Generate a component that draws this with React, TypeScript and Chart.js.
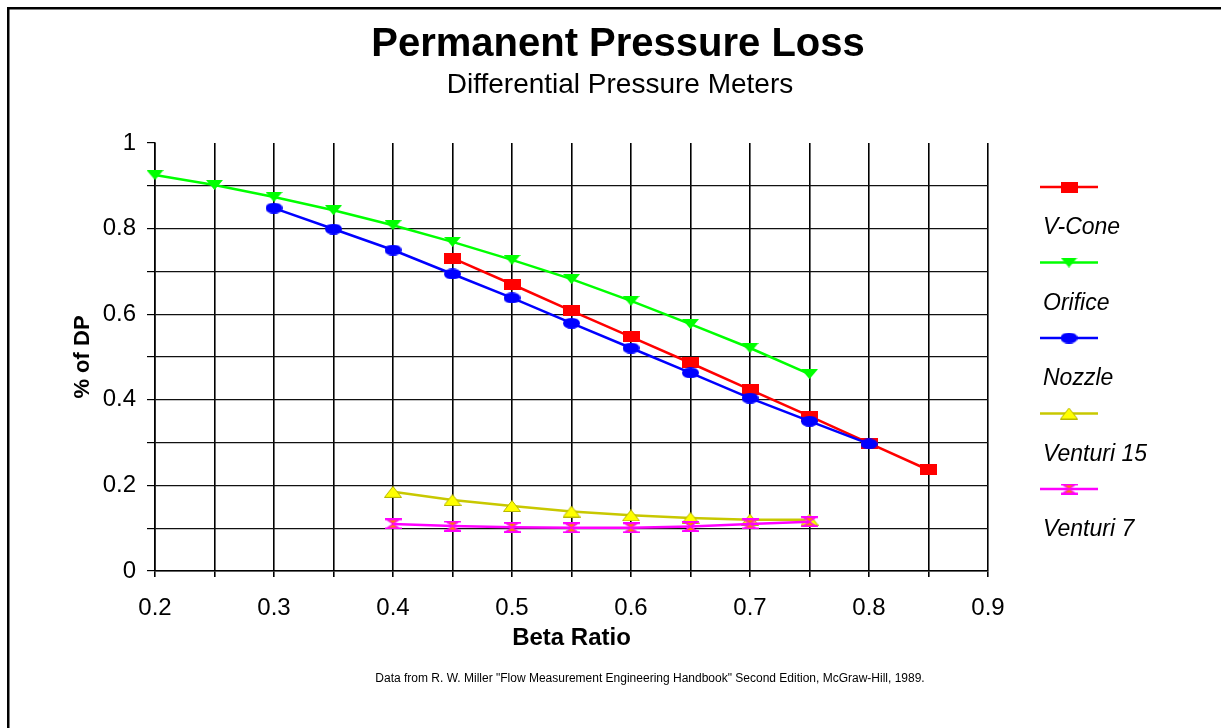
import React, { useEffect, useRef } from "react";
import { Chart, registerables } from "chart.js";

Chart.register(...registerables);

const FONT = "'Liberation Sans', Arial, sans-serif";

// ---- data ----
const vconeBeta = [0.45, 0.5, 0.55, 0.6, 0.65, 0.7, 0.75, 0.8, 0.85];
const vconeLoss = [0.731, 0.67, 0.608, 0.547, 0.486, 0.424, 0.362, 0.299, 0.236];

const orificeBeta = [0.2, 0.25, 0.3, 0.35, 0.4, 0.45, 0.5, 0.55, 0.6, 0.65, 0.7, 0.75];
const orificeLoss = [0.925, 0.902, 0.874, 0.843, 0.808, 0.769, 0.727, 0.682, 0.631, 0.577, 0.521, 0.46];

const nozzleBeta = [0.3, 0.35, 0.4, 0.45, 0.5, 0.55, 0.6, 0.65, 0.7, 0.75, 0.8];
const nozzleLoss = [0.848, 0.799, 0.75, 0.694, 0.638, 0.579, 0.521, 0.463, 0.404, 0.35, 0.297];

const venturi15Beta = [0.4, 0.45, 0.5, 0.55, 0.6, 0.65, 0.7, 0.75];
const venturi15Loss = [0.185, 0.166, 0.152, 0.139, 0.13, 0.124, 0.12, 0.12];

const venturi7Beta = [0.4, 0.45, 0.5, 0.55, 0.6, 0.65, 0.7, 0.75];
const venturi7Loss = [0.11, 0.105, 0.102, 0.101, 0.101, 0.104, 0.11, 0.115];

const seriesLabels = ["V-Cone", "Orifice", "Nozzle", "Venturi 15", "Venturi 7"];
const titleText = "Permanent Pressure Loss";
const subtitleText = "Differential Pressure Meters";
const captionText =
  'Data from R. W. Miller "Flow Measurement Engineering Handbook" Second Edition, McGraw-Hill, 1989.';
const xTitle = "Beta Ratio";
const yTitle = "% of DP";

function makeMarker(w: number, h: number, draw: (c: CanvasRenderingContext2D, w: number, h: number) => void) {
  const c = document.createElement("canvas");
  c.width = w;
  c.height = h;
  const ctx = c.getContext("2d")!;
  draw(ctx, w, h);
  return c;
}

function pts(xs: number[], ys: number[]) {
  return xs.map((x, i) => ({ x, y: ys[i] }));
}

export default function App() {
  const ref = useRef<HTMLCanvasElement | null>(null);

  useEffect(() => {
    if (!ref.current) return;

    const square = makeMarker(17, 11, (c, w, h) => {
      c.fillStyle = "#FF0000";
      c.fillRect(0, 0, w, h);
    });
    const downTri = makeMarker(17, 10, (c, w, h) => {
      c.fillStyle = "#00FF00";
      c.beginPath();
      c.moveTo(0, 0);
      c.lineTo(w, 0);
      c.lineTo(w / 2, h);
      c.closePath();
      c.fill();
    });
    const ellipse = makeMarker(17, 11, (c, w, h) => {
      c.fillStyle = "#0000FF";
      c.beginPath();
      c.ellipse(w / 2, h / 2, w / 2, h / 2, 0, 0, Math.PI * 2);
      c.fill();
    });
    const upTri = makeMarker(18, 12, (c, w, h) => {
      c.fillStyle = "#FFFF00";
      c.strokeStyle = "#B8B800";
      c.lineWidth = 1;
      c.beginPath();
      c.moveTo(0.5, h - 0.5);
      c.lineTo(w - 0.5, h - 0.5);
      c.lineTo(w / 2, 0.5);
      c.closePath();
      c.fill();
      c.stroke();
    });
    const hourglass = makeMarker(17, 11, (c, w, h) => {
      c.fillStyle = "#FF8000";
      c.strokeStyle = "#FF00FF";
      c.lineWidth = 1.2;
      c.beginPath();
      c.moveTo(2, 1);
      c.lineTo(w - 2, 1);
      c.lineTo(w / 2, h / 2);
      c.closePath();
      c.moveTo(2, h - 1);
      c.lineTo(w - 2, h - 1);
      c.lineTo(w / 2, h / 2);
      c.closePath();
      c.fill();
      c.stroke();
      c.fillStyle = "#FF00FF";
      c.fillRect(0, 0, w, 1.8);
      c.fillRect(0, h - 1.8, w, 1.8);
    });

    const legendItems = [
      { label: seriesLabels[0], color: "#FF0000", marker: square },
      { label: seriesLabels[1], color: "#00FF00", marker: downTri },
      { label: seriesLabels[2], color: "#0000FF", marker: ellipse },
      { label: seriesLabels[3], color: "#C8C800", marker: upTri },
      { label: seriesLabels[4], color: "#FF00FF", marker: hourglass },
    ];

    const decor = {
      id: "decor",
      beforeDraw(chart: any) {
        const c = chart.ctx as CanvasRenderingContext2D;
        c.save();
        c.fillStyle = "#fff";
        c.fillRect(0, 0, chart.width, chart.height);
        c.fillStyle = "#000";
        c.fillRect(7, 7, chart.width - 7, 2.5);
        c.fillRect(7, 7, 2.5, chart.height - 7);
        c.restore();
      },
      afterDraw(chart: any) {
        const c = chart.ctx as CanvasRenderingContext2D;
        c.save();
        c.fillStyle = "#000";
        c.textAlign = "center";
        c.textBaseline = "middle";
        c.font = `bold 40px ${FONT}`;
        c.fillText(titleText, 618, 45);
        c.font = `28px ${FONT}`;
        c.fillText(subtitleText, 620, 85);
        c.font = `12px ${FONT}`;
        c.fillText(captionText, 650, 679);

        legendItems.forEach((it, i) => {
          const y = 187 + i * 75.5;
          c.strokeStyle = it.color;
          c.lineWidth = 2.5;
          c.beginPath();
          c.moveTo(1040, y);
          c.lineTo(1098, y);
          c.stroke();
          const m = it.marker;
          c.drawImage(m, 1069 - m.width / 2, y - m.height / 2);
          c.fillStyle = "#000";
          c.textAlign = "left";
          c.font = `italic 23px ${FONT}`;
          c.fillText(it.label, 1043, y + 41);
        });
        c.restore();
      },
    };

    const mk = (label: string, data: any[], color: string, marker: HTMLCanvasElement) => ({
      label,
      data,
      borderColor: color,
      backgroundColor: color,
      borderWidth: 2.5,
      pointStyle: marker,
      pointRadius: 6,
      pointHoverRadius: 6,
      showLine: true,
      tension: 0,
      clip: false as any,
    });

    const chart = new Chart(ref.current, {
      type: "scatter",
      data: {
        datasets: [
          mk(seriesLabels[4], pts(venturi7Beta, venturi7Loss), "#FF00FF", hourglass),
          mk(seriesLabels[3], pts(venturi15Beta, venturi15Loss), "#C8C800", upTri),
          mk(seriesLabels[2], pts(nozzleBeta, nozzleLoss), "#0000FF", ellipse),
          mk(seriesLabels[1], pts(orificeBeta, orificeLoss), "#00FF00", downTri),
          mk(seriesLabels[0], pts(vconeBeta, vconeLoss), "#FF0000", square),
        ],
      },
      options: {
        responsive: false,
        animation: false,
        events: [],
        layout: { padding: { left: 55, right: 233, top: 143, bottom: 74 } },
        plugins: {
          legend: { display: false },
          tooltip: { enabled: false },
          title: { display: false },
        },
        scales: {
          x: {
            type: "linear",
            min: 0.2,
            max: 0.9,
            afterFit: (s: any) => {
              s.height = 83;
            },
            ticks: {
              stepSize: 0.05,
              autoSkip: false,
              maxRotation: 0,
              color: "#000",
              padding: 17,
              font: { family: FONT, size: 24 },
              callback: (v: any) => {
                const n = Math.round(Number(v) * 100);
                return n % 10 === 0 ? String(n / 100) : "";
              },
            },
            grid: { color: "#000", lineWidth: 1.6, tickLength: 6, tickColor: "#000" },
            border: { color: "#000", width: 1.5 },
            title: {
              display: true,
              text: xTitle,
              color: "#000",
              font: { family: FONT, size: 24, weight: "bold" },
              padding: { top: 0, bottom: 1 },
            },
          },
          y: {
            type: "linear",
            min: 0,
            max: 1,
            afterFit: (s: any) => {
              s.width = 100;
            },
            ticks: {
              stepSize: 0.1,
              autoSkip: false,
              color: "#000",
              padding: 11,
              font: { family: FONT, size: 24 },
              callback: (v: any) => {
                const n = Math.round(Number(v) * 10);
                return n % 2 === 0 ? String(n / 10) : "";
              },
            },
            grid: {
              color: (ctx: any) => (ctx.tick && Math.abs(ctx.tick.value - 1) < 1e-6 ? "rgba(0,0,0,0)" : "#111"),
              lineWidth: 1.2,
              tickLength: 8,
              tickColor: "#000",
            },
            border: { color: "#000", width: 1.5 },
            title: {
              display: true,
              text: yTitle,
              color: "#000",
              font: { family: FONT, size: 22, weight: "bold" },
              padding: { top: 15, bottom: 0 },
            },
          },
        },
      },
      plugins: [decor],
    });

    return () => chart.destroy();
  }, []);

  return (
    <div style={{ position: "fixed", left: 0, top: 0, width: 1221, height: 728, background: "#fff" }}>
      <canvas ref={ref} width={1221} height={728} style={{ width: 1221, height: 728, display: "block" }} />
    </div>
  );
}
